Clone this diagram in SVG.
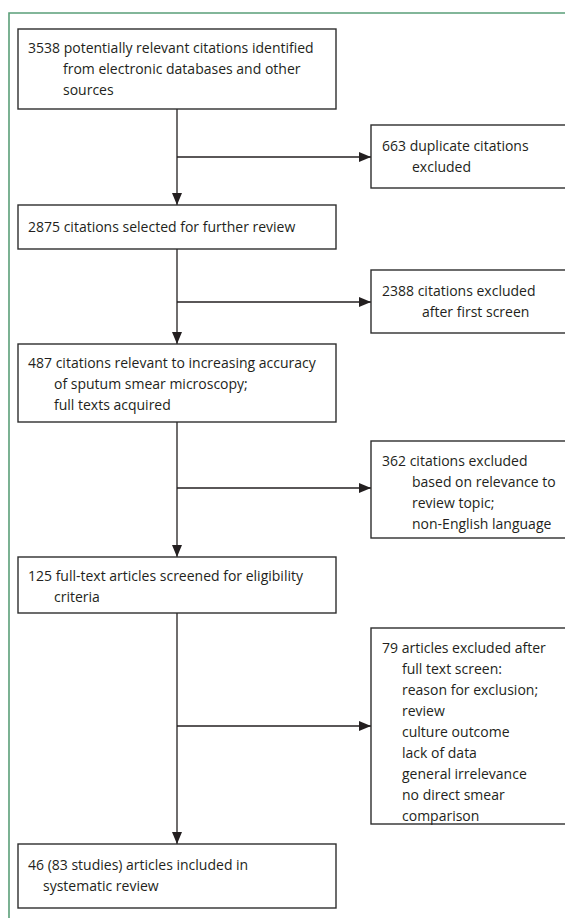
<svg xmlns="http://www.w3.org/2000/svg" width="565" height="918" viewBox="0 0 565 918">
<defs>
<style>
.box{fill:#fff;stroke:#2e2e2e;stroke-width:1.4}
.t{font-family:"Open Sans","Noto Sans",sans-serif;font-size:14px;fill:#231f20}
.ln{stroke:#231f20;stroke-width:1.3;fill:none}
.frame{stroke:#5a9f78;stroke-width:1.6;fill:none}
</style>
<marker id="ah" markerWidth="12" markerHeight="10" refX="12" refY="5" orient="auto" markerUnits="userSpaceOnUse">
<path d="M0,0 L12,5 L0,10 Z" fill="#231f20"/>
</marker>
</defs>
<rect width="565" height="918" fill="#fff"/>
<path class="frame" d="M9,918 V13 H565"/>

<g id="connectors">
<line class="ln" x1="177" y1="109" x2="177" y2="205" marker-end="url(#ah)"/>
<line class="ln" x1="177" y1="157" x2="371" y2="157" marker-end="url(#ah)"/>
<line class="ln" x1="177" y1="249" x2="177" y2="344" marker-end="url(#ah)"/>
<line class="ln" x1="177" y1="302" x2="371" y2="302" marker-end="url(#ah)"/>
<line class="ln" x1="177" y1="422" x2="177" y2="557" marker-end="url(#ah)"/>
<line class="ln" x1="177" y1="488" x2="371" y2="488" marker-end="url(#ah)"/>
<line class="ln" x1="177" y1="613" x2="177" y2="844" marker-end="url(#ah)"/>
<line class="ln" x1="177" y1="726" x2="371" y2="726" marker-end="url(#ah)"/>
</g>

<g id="n1">
<rect class="box" x="18" y="29" width="318" height="80"/>
<text class="t"><tspan x="28" y="53">3538 potentially relevant citations identified</tspan><tspan x="63" y="74">from electronic databases and other</tspan><tspan x="63" y="95">sources</tspan></text>
</g>
<g id="n2">
<rect class="box" x="371" y="125" width="200" height="63"/>
<text class="t"><tspan x="382" y="151">663 duplicate citations</tspan><tspan x="412" y="172">excluded</tspan></text>
</g>
<g id="n3">
<rect class="box" x="18" y="205" width="318" height="44"/>
<text class="t"><tspan x="28" y="232">2875 citations selected for further review</tspan></text>
</g>
<g id="n4">
<rect class="box" x="371" y="270" width="200" height="63"/>
<text class="t"><tspan x="382" y="296">2388 citations excluded</tspan><tspan x="422" y="317">after first screen</tspan></text>
</g>
<g id="n5">
<rect class="box" x="18" y="344" width="318" height="78"/>
<text class="t"><tspan x="28" y="368">487 citations relevant to increasing accuracy</tspan><tspan x="54" y="389">of sputum smear microscopy;</tspan><tspan x="54" y="410">full texts acquired</tspan></text>
</g>
<g id="n6">
<rect class="box" x="371" y="441" width="200" height="97"/>
<text class="t"><tspan x="382" y="466">362 citations excluded</tspan><tspan x="412" y="487">based on relevance to</tspan><tspan x="412" y="508">review topic;</tspan><tspan x="412" y="529">non-English language</tspan></text>
</g>
<g id="n7">
<rect class="box" x="18" y="557" width="318" height="56"/>
<text class="t"><tspan x="28" y="581">125 full-text articles screened for eligibility</tspan><tspan x="54" y="602">criteria</tspan></text>
</g>
<g id="n8">
<rect class="box" x="371" y="628" width="200" height="196"/>
<text class="t"><tspan x="382" y="653">79 articles excluded after</tspan><tspan x="402" y="674">full text screen:</tspan><tspan x="402" y="695">reason for exclusion;</tspan><tspan x="402" y="716">review</tspan><tspan x="402" y="737">culture outcome</tspan><tspan x="402" y="758">lack of data</tspan><tspan x="402" y="779">general irrelevance</tspan><tspan x="402" y="800">no direct smear</tspan><tspan x="402" y="821">comparison</tspan></text>
</g>
<g id="n9">
<rect class="box" x="18" y="844" width="318" height="64"/>
<text class="t"><tspan x="28" y="870">46 (83 studies) articles included in</tspan><tspan x="43" y="891">systematic review</tspan></text>
</g>
</svg>
